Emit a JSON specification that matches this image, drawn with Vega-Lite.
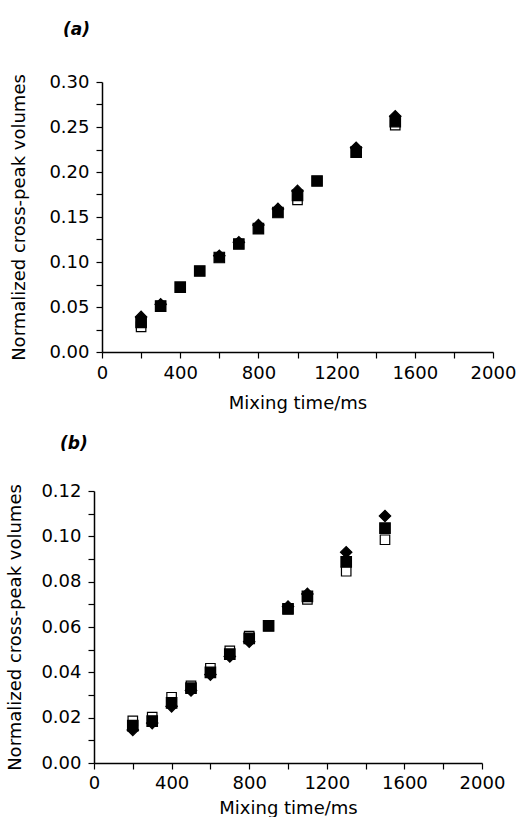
{
  "$schema": "https://vega.github.io/schema/vega-lite/v6.json",
  "background": "white",
  "padding": {"left": 5, "top": 21, "right": 5, "bottom": 0},
  "columns": 1,
  "spacing": 23,
  "config": {
    "font": "DejaVu Sans",
    "view": {"stroke": null},
    "axis": {
      "grid": false,
      "domainColor": "black",
      "domainWidth": 1.5,
      "tickColor": "black",
      "tickSize": 6,
      "tickWidth": 1.2,
      "labelFont": "DejaVu Sans",
      "labelFontSize": 18,
      "labelColor": "black",
      "titleFont": "DejaVu Sans",
      "titleFontSize": 18,
      "titleFontWeight": "normal",
      "titleColor": "black"
    },
    "title": {"font": "DejaVu Sans", "fontSize": 17, "fontStyle": "italic", "fontWeight": "bold", "anchor": "start", "frame": "group", "color": "black"}
  },
  "datasets": {
    "pts": [
      {"panel": "a", "t": 200, "v": 0.028, "series": "open"},
      {"panel": "a", "t": 300, "v": 0.051, "series": "open"},
      {"panel": "a", "t": 1000, "v": 0.169, "series": "open"},
      {"panel": "a", "t": 1500, "v": 0.252, "series": "open"},
      {"panel": "a", "t": 200, "v": 0.033, "series": "filled"},
      {"panel": "a", "t": 300, "v": 0.051, "series": "filled"},
      {"panel": "a", "t": 400, "v": 0.072, "series": "filled"},
      {"panel": "a", "t": 500, "v": 0.090, "series": "filled"},
      {"panel": "a", "t": 600, "v": 0.105, "series": "filled"},
      {"panel": "a", "t": 700, "v": 0.120, "series": "filled"},
      {"panel": "a", "t": 800, "v": 0.137, "series": "filled"},
      {"panel": "a", "t": 900, "v": 0.155, "series": "filled"},
      {"panel": "a", "t": 1000, "v": 0.174, "series": "filled"},
      {"panel": "a", "t": 1100, "v": 0.190, "series": "filled"},
      {"panel": "a", "t": 1300, "v": 0.222, "series": "filled"},
      {"panel": "a", "t": 1500, "v": 0.256, "series": "filled"},
      {"panel": "a", "t": 200, "v": 0.039, "series": "diamond"},
      {"panel": "a", "t": 300, "v": 0.053, "series": "diamond"},
      {"panel": "a", "t": 600, "v": 0.107, "series": "diamond"},
      {"panel": "a", "t": 700, "v": 0.122, "series": "diamond"},
      {"panel": "a", "t": 800, "v": 0.141, "series": "diamond"},
      {"panel": "a", "t": 900, "v": 0.159, "series": "diamond"},
      {"panel": "a", "t": 1000, "v": 0.179, "series": "diamond"},
      {"panel": "a", "t": 1300, "v": 0.227, "series": "diamond"},
      {"panel": "a", "t": 1500, "v": 0.262, "series": "diamond"},
      {"panel": "b", "t": 200, "v": 0.0186, "series": "open"},
      {"panel": "b", "t": 300, "v": 0.0202, "series": "open"},
      {"panel": "b", "t": 400, "v": 0.0290, "series": "open"},
      {"panel": "b", "t": 500, "v": 0.0340, "series": "open"},
      {"panel": "b", "t": 600, "v": 0.0418, "series": "open"},
      {"panel": "b", "t": 700, "v": 0.0495, "series": "open"},
      {"panel": "b", "t": 800, "v": 0.0560, "series": "open"},
      {"panel": "b", "t": 900, "v": 0.0605, "series": "open"},
      {"panel": "b", "t": 1000, "v": 0.0680, "series": "open"},
      {"panel": "b", "t": 1100, "v": 0.0722, "series": "open"},
      {"panel": "b", "t": 1300, "v": 0.0846, "series": "open"},
      {"panel": "b", "t": 1500, "v": 0.0985, "series": "open"},
      {"panel": "b", "t": 200, "v": 0.0165, "series": "filled"},
      {"panel": "b", "t": 300, "v": 0.0185, "series": "filled"},
      {"panel": "b", "t": 400, "v": 0.0265, "series": "filled"},
      {"panel": "b", "t": 500, "v": 0.0330, "series": "filled"},
      {"panel": "b", "t": 600, "v": 0.0400, "series": "filled"},
      {"panel": "b", "t": 700, "v": 0.0480, "series": "filled"},
      {"panel": "b", "t": 800, "v": 0.0550, "series": "filled"},
      {"panel": "b", "t": 900, "v": 0.0605, "series": "filled"},
      {"panel": "b", "t": 1000, "v": 0.0680, "series": "filled"},
      {"panel": "b", "t": 1100, "v": 0.0735, "series": "filled"},
      {"panel": "b", "t": 1300, "v": 0.0887, "series": "filled"},
      {"panel": "b", "t": 1500, "v": 0.1036, "series": "filled"},
      {"panel": "b", "t": 200, "v": 0.0146, "series": "diamond"},
      {"panel": "b", "t": 300, "v": 0.0176, "series": "diamond"},
      {"panel": "b", "t": 400, "v": 0.0250, "series": "diamond"},
      {"panel": "b", "t": 500, "v": 0.0320, "series": "diamond"},
      {"panel": "b", "t": 600, "v": 0.0390, "series": "diamond"},
      {"panel": "b", "t": 700, "v": 0.0470, "series": "diamond"},
      {"panel": "b", "t": 800, "v": 0.0535, "series": "diamond"},
      {"panel": "b", "t": 1000, "v": 0.0690, "series": "diamond"},
      {"panel": "b", "t": 1100, "v": 0.0746, "series": "diamond"},
      {"panel": "b", "t": 1300, "v": 0.0930, "series": "diamond"},
      {"panel": "b", "t": 1500, "v": 0.1090, "series": "diamond"}
    ]
  },
  "concat": [
    {
      "spacing": 4,
      "hconcat": [
        {"width": 1, "height": 1, "data": {"values": []}, "mark": "point"},
        {
          "title": {"text": "(a)", "offset": 34, "dx": -39},
          "width": 391,
          "height": 270,
          "data": {"name": "pts"},
          "transform": [{"filter": "datum.panel == 'a'"}],
          "mark": {"type": "point", "filled": true, "opacity": 1, "stroke": "black", "strokeWidth": 1.2},
          "encoding": {
            "x": {"field": "t", "type": "quantitative", "scale": {"domain": [0, 2000], "nice": false},
              "axis": {"title": "Mixing time/ms", "values": [0,200,400,600,800,1000,1200,1400,1600,1800,2000],
                "labelExpr": "datum.value % 400 == 0 ? datum.label : ''", "format": "d", "labelPadding": 6, "titlePadding": 12, "labelFlush": false}},
            "y": {"field": "v", "type": "quantitative", "scale": {"domain": [0, 0.3], "nice": false, "zero": true},
              "axis": {"title": "Normalized cross-peak volumes", "values": [0,0.025,0.05,0.075,0.1,0.125,0.15,0.175,0.2,0.225,0.25,0.275,0.3],
                "labelExpr": "round(datum.value*1000) % 50 == 0 ? format(datum.value, '.2f') : ''", "labelPadding": 7, "titlePadding": 20}},
            "shape": {"field": "series", "type": "nominal", "scale": {"domain": ["open","filled","diamond"], "range": ["square","square","diamond"]}, "legend": null},
            "fill": {"field": "series", "type": "nominal", "scale": {"domain": ["open","filled","diamond"], "range": ["white","black","black"]}, "legend": null},
            "size": {"field": "series", "type": "nominal", "scale": {"domain": ["open","filled","diamond"], "range": [90,130,200]}, "legend": null},
            "order": {"field": "series", "sort": "descending"}
          }
        }
      ]
    },
    {
      "spacing": 0,
      "hconcat": [
        {"width": 1, "height": 1, "data": {"values": []}, "mark": "point"},
        {
          "title": {"text": "(b)", "offset": 29, "dx": -34},
          "width": 388,
          "height": 272,
          "data": {"name": "pts"},
          "transform": [{"filter": "datum.panel == 'b'"}],
          "mark": {"type": "point", "filled": true, "opacity": 1, "stroke": "black", "strokeWidth": 1.2},
          "encoding": {
            "x": {"field": "t", "type": "quantitative", "scale": {"domain": [0, 2000], "nice": false},
              "axis": {"title": "Mixing time/ms", "values": [0,200,400,600,800,1000,1200,1400,1600,1800,2000],
                "labelExpr": "datum.value % 400 == 0 ? datum.label : ''", "format": "d", "labelPadding": 5, "titlePadding": 7, "labelFlush": false}},
            "y": {"field": "v", "type": "quantitative", "scale": {"domain": [0, 0.12], "nice": false, "zero": true},
              "axis": {"title": "Normalized cross-peak volumes", "values": [0,0.01,0.02,0.03,0.04,0.05,0.06,0.07,0.08,0.09,0.1,0.11,0.12],
                "labelExpr": "round(datum.value*1000) % 20 == 0 ? format(datum.value, '.2f') : ''", "labelPadding": 7, "titlePadding": 16}},
            "shape": {"field": "series", "type": "nominal", "scale": {"domain": ["open","filled","diamond"], "range": ["square","square","diamond"]}, "legend": null},
            "fill": {"field": "series", "type": "nominal", "scale": {"domain": ["open","filled","diamond"], "range": ["white","black","black"]}, "legend": null},
            "size": {"field": "series", "type": "nominal", "scale": {"domain": ["open","filled","diamond"], "range": [90,110,190]}, "legend": null},
            "order": {"field": "series", "sort": "descending"}
          }
        }
      ]
    }
  ]
}
